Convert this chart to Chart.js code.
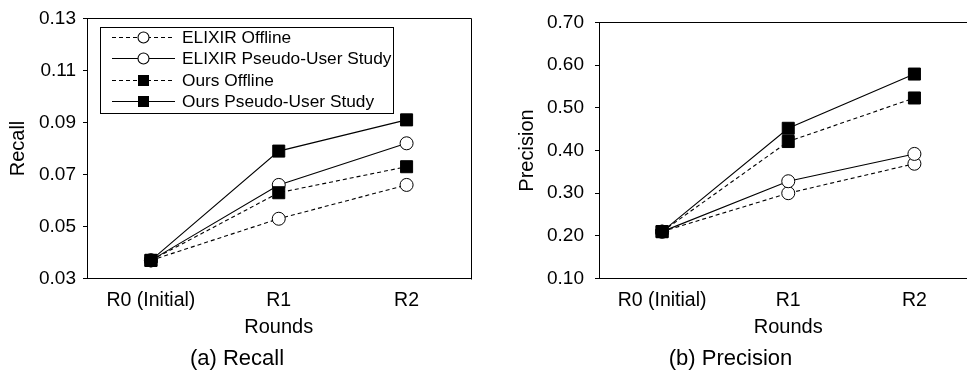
<!DOCTYPE html>
<html>
<head>
<meta charset="utf-8">
<script src="https://cdn.jsdelivr.net/npm/chart.js@4.4.1/dist/chart.umd.min.js"></script>
<style>
  html, body { margin: 0; padding: 0; background: #fff; overflow: hidden; width: 967px; height: 373px; }
  .wrap { position: absolute; top: 0; height: 373px; }
  #wrapA { left: 0; width: 480px; }
  #wrapB { left: 480px; width: 507px; }
</style>
</head>
<body>
<div class="wrap" id="wrapA"><canvas id="recallChart"></canvas></div>
<div class="wrap" id="wrapB"><canvas id="precisionChart"></canvas></div>
<script>
// data
const rounds = ['R0 (Initial)', 'R1', 'R2'];
const seriesNames = ['ELIXIR Offline', 'ELIXIR Pseudo-User Study', 'Ours Offline', 'Ours Pseudo-User Study'];

const recallElixirOffline = [0.037, 0.053, 0.066];
const recallElixirPseudo  = [0.037, 0.066, 0.082];
const recallOursOffline   = [0.037, 0.063, 0.073];
const recallOursPseudo    = [0.037, 0.079, 0.091];

const precElixirOffline = [0.21, 0.300, 0.369];
const precElixirPseudo  = [0.21, 0.328, 0.392];
const precOursOffline   = [0.21, 0.421, 0.523];
const precOursPseudo    = [0.21, 0.452, 0.579];

const recallTicks = [0.03, 0.05, 0.07, 0.09, 0.11, 0.13];
const precTicks = [0.10, 0.20, 0.30, 0.40, 0.50, 0.60, 0.70];

Chart.defaults.font.family = '"Liberation Sans", Arial, Helvetica, sans-serif';
Chart.defaults.color = '#000';

const DASH = [4, 3];

function seriesStyle(i) {
  const offline = (i % 2 === 0);
  const ours = i >= 2;
  return {
    borderColor: '#000',
    borderWidth: 1.1,
    borderDash: offline ? DASH : [],
    pointStyle: ours ? 'rect' : 'circle',
    pointRadius: ours ? 8.5 : 6.5,
    pointHoverRadius: ours ? 8.5 : 6.5,
    pointBackgroundColor: ours ? '#000' : '#fff',
    pointBorderColor: '#000',
    pointBorderWidth: 1,
    order: 4 - i,
    tension: 0,
    fill: false
  };
}

// top + right border of the plot box
const framePlugin = {
  id: 'frame',
  beforeDatasetsDraw(chart) {
    const a = chart.chartArea;
    const ctx = chart.ctx;
    ctx.save();
    ctx.strokeStyle = '#000';
    ctx.lineWidth = 1;
    ctx.beginPath();
    ctx.moveTo(Math.round(a.left) + 0.5, Math.round(a.top) + 0.5);
    ctx.lineTo(Math.round(a.right) + 0.5, Math.round(a.top) + 0.5);
    ctx.lineTo(Math.round(a.right) + 0.5, Math.round(a.bottom) + 0.5);
    ctx.stroke();
    ctx.restore();
  }
};

// boxed legend with line+marker samples (only on the recall chart)
const boxLegend = {
  id: 'boxLegend',
  afterDraw(chart) {
    const ctx = chart.ctx;
    const x0 = 100.5, y0 = 27.5, w = 293, h = 86;
    ctx.save();
    ctx.fillStyle = '#fff';
    ctx.fillRect(x0, y0, w, h);
    ctx.strokeStyle = '#000';
    ctx.lineWidth = 1;
    ctx.strokeRect(x0, y0, w, h);
    const rowY = [37.5, 58.5, 80.5, 101.5];
    ctx.font = '17.3px "Liberation Sans", Arial, sans-serif';
    ctx.textBaseline = 'middle';
    seriesNames.forEach((name, i) => {
      const st = seriesStyle(i);
      const y = rowY[i];
      ctx.setLineDash(st.borderDash);
      ctx.lineWidth = 1.1;
      ctx.beginPath();
      ctx.moveTo(112, y);
      ctx.lineTo(175, y);
      ctx.stroke();
      ctx.setLineDash([]);
      if (st.pointStyle === 'rect') {
        ctx.fillStyle = '#000';
        ctx.fillRect(138, y - 5.5, 11, 11);
      } else {
        ctx.beginPath();
        ctx.arc(143.5, y, 5.5, 0, Math.PI * 2);
        ctx.fillStyle = '#fff';
        ctx.fill();
        ctx.stroke();
      }
      ctx.fillStyle = '#000';
      ctx.fillText(name, 182, y + 1);
    });
    ctx.restore();
  }
};

function makeChart(id, opts) {
  const datasets = opts.series.map((data, i) => Object.assign({ label: seriesNames[i], data }, seriesStyle(i)));
  return new Chart(document.getElementById(id), {
    type: 'line',
    data: { labels: rounds, datasets },
    options: {
      responsive: true,
      maintainAspectRatio: false,
      animation: false,
      events: [],
      layout: { padding: { top: 16, right: 6, left: 0, bottom: 0 } },
      plugins: {
        legend: { display: false },
        tooltip: { enabled: false },
        title: {
          display: true,
          position: 'bottom',
          text: opts.caption,
          color: '#000',
          font: { size: 22, weight: 'normal' },
          padding: { top: 6, bottom: 1 }
        }
      },
      scales: {
        x: {
          offset: true,
          grid: { display: false },
          border: { display: true, color: '#000', width: 1 },
          ticks: { color: '#000', font: { size: 19.5 }, padding: 2, maxRotation: 0 },
          title: { display: true, text: 'Rounds', color: '#000', font: { size: 20 }, padding: { top: 7, bottom: 0 } },
          afterFit(s) { s.height = 61; }
        },
        y: {
          min: opts.ticks[0],
          max: opts.ticks[opts.ticks.length - 1],
          afterBuildTicks(s) { s.ticks = opts.ticks.map(v => ({ value: v })); },
          grid: { display: true, drawOnChartArea: false, drawTicks: true, tickLength: 4, color: '#000' },
          border: { display: true, color: '#000', width: 1 },
          ticks: { color: '#000', font: { size: 19 }, padding: opts.tickPad, callback: v => v.toFixed(2) },
          title: { display: true, text: opts.yTitle, color: '#000', font: { size: 20 }, padding: { top: opts.titlePad, bottom: 0 } },
          afterFit(s) { s.width = opts.yWidth; }
        }
      }
    },
    plugins: opts.legend ? [framePlugin, boxLegend] : [framePlugin]
  });
}

makeChart('recallChart', {
  series: [recallElixirOffline, recallElixirPseudo, recallOursOffline, recallOursPseudo],
  ticks: recallTicks,
  yTitle: 'Recall',
  caption: '(a) Recall',
  yWidth: 87,
  tickPad: 7,
  titlePad: 6,
  legend: true
});

makeChart('precisionChart', {
  series: [precElixirOffline, precElixirPseudo, precOursOffline, precOursPseudo],
  ticks: precTicks,
  yTitle: 'Precision',
  caption: '(b) Precision',
  yWidth: 119,
  tickPad: 11,
  titlePad: 35,
  legend: false
});
</script>
</body>
</html>
